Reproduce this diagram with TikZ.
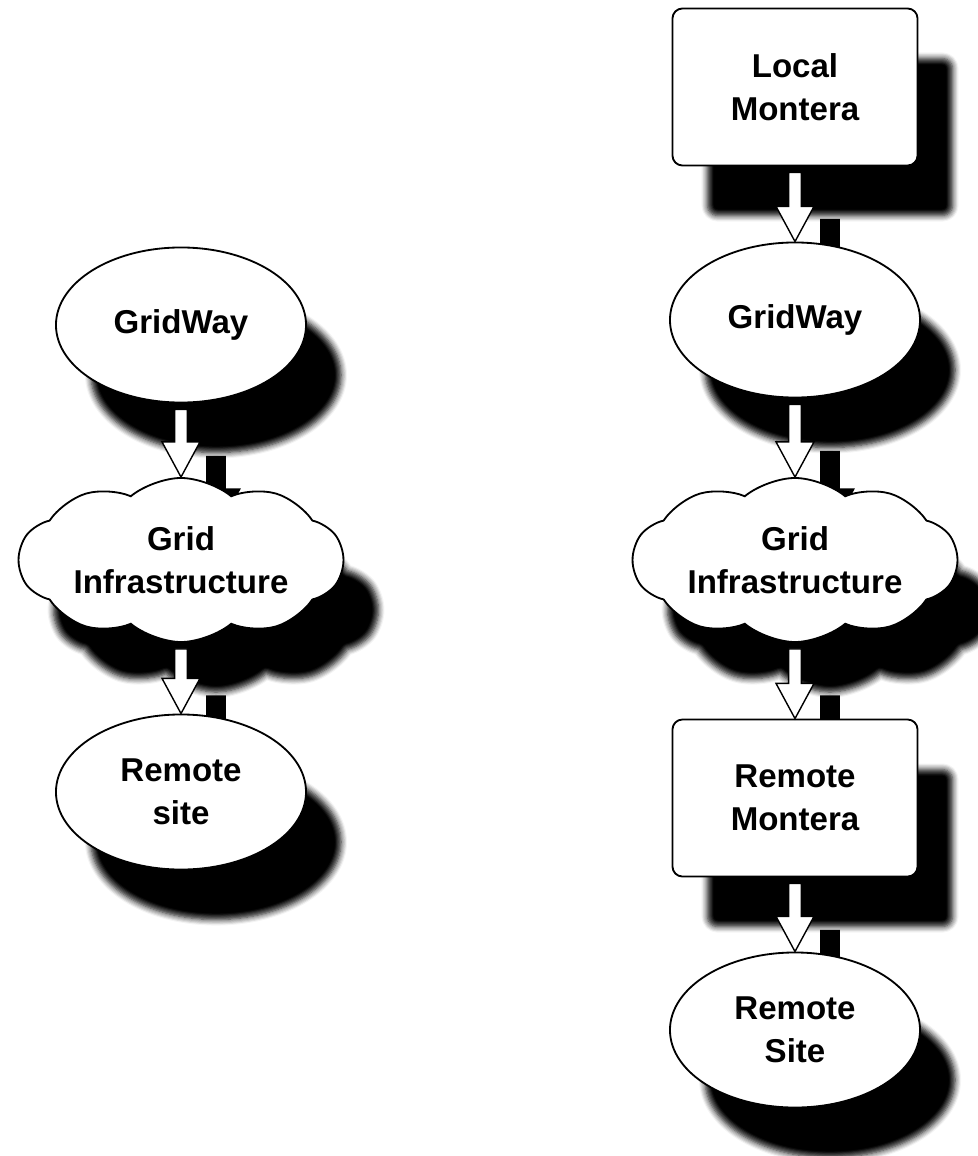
\documentclass[tikz,border=0pt]{standalone}
\usepackage{fontspec}
\setmainfont{Liberation Sans}
\usetikzlibrary{shapes.geometric,shapes.symbols,shadows.blur,calc}
\pgfdeclarelayer{background}
\pgfsetlayers{background,main}
\tikzset{
  castshadow/.style={blur shadow={shadow xshift=0.875cm,shadow yshift=-1.25cm,
      shadow opacity=100,shadow blur radius=0.15cm,shadow blur steps=6}},
  nodebase/.style={draw=black,line width=1.3pt,fill=white,align=center,inner sep=0pt,
    font=\fontsize{23.5}{30.6}\selectfont\bfseries,castshadow},
  box/.style={nodebase,rectangle,rounded corners=0.25cm,minimum width=6.125cm,minimum height=3.925cm},
  oval/.style={nodebase,ellipse,minimum width=6.25cm,minimum height=3.875cm},
  net/.style={nodebase,cloud,cloud puffs=10,cloud puff arc=80,cloud ignores aspect,
    minimum width=8.1cm,minimum height=4.1cm},
  flow/.style={draw=black,line width=1pt,fill=white,
    to path={let \p1=(\tikztostart),\p2=(\tikztotarget) in
      (\x1-4.5pt,\y1-4.3pt) -- (\x1-4.5pt,\y2+25pt) -- (\x1-13.5pt,\y2+25pt) -- (\x1,\y2)
      -- (\x1+13.5pt,\y2+25pt) -- (\x1+4.5pt,\y2+25pt) -- (\x1+4.5pt,\y1-4.3pt) -- cycle}},
  flowshadow/.style={flow,draw=black,fill=black,line width=5pt,
    transform canvas={xshift=0.875cm,yshift=-1.25cm}}
}
\begin{document}
\begin{tikzpicture}[x=0.025cm,y=-0.025cm]
  \useasboundingbox (0,0) rectangle (978,1156);
  % plain submission
  \node[oval] (gw1) at (181,325) {GridWay};
  \node[net] (gi1) at (181,560) {Grid\\Infrastructure};
  \node[oval] (rs1) at (181,792) {Remote\\site};
  % submission through Montera
  \node[box] (lm) at (795,87) {Local\\Montera};
  \node[oval] (gw2) at (795,320) {GridWay};
  \node[net] (gi2) at (795,560) {Grid\\Infrastructure};
  \node[box] (rm) at (795,798) {Remote\\Montera};
  \node[oval] (rs2) at (795,1030) {Remote\\Site};
  % arrows
  \begin{pgfonlayer}{background}
    \foreach \a/\b in {gw1/gi1,gi1/rs1,lm/gw2,gw2/gi2,gi2/rm,rm/rs2}
      \draw[flowshadow] (\a.south) to (\b.north);
  \end{pgfonlayer}
  \foreach \a/\b in {gw1/gi1,gi1/rs1,lm/gw2,gw2/gi2,gi2/rm,rm/rs2}
    \draw[flow] (\a.south) to (\b.north);
\end{tikzpicture}
\end{document}
